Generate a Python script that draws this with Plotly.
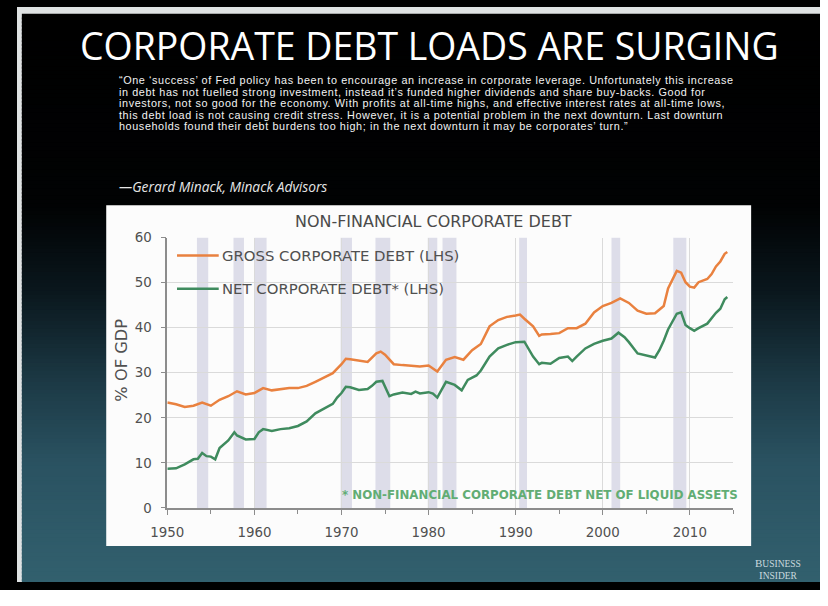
import plotly.graph_objects as go

# Figure sized so the whole page, including the browser's default body margin,
# fits the 828 x 606 window without scrollbars.
W, H = 820, 590
# layout positions below are in slide pixels of an 828 x 606 slide
SLIDE_W, SLIDE_H = 828, 606
FS = 0.985  # font scale from slide pixels to figure pixels

# ---- data -----------------------------------------------------------------
gross_years = [1950, 1951, 1952, 1953, 1954, 1955, 1956, 1957, 1958, 1959,
               1960, 1961, 1962, 1963, 1964, 1965, 1966, 1967, 1968, 1969,
               1970, 1970.5, 1971, 1972, 1973, 1974, 1974.5, 1975, 1976, 1977,
               1978, 1979, 1980, 1981, 1982, 1983, 1984, 1985, 1986, 1987,
               1988, 1989, 1990, 1990.5, 1991, 1992, 1992.7, 1993, 1994, 1995,
               1996, 1997, 1998, 1999, 2000, 2001, 2002, 2003, 2004, 2005,
               2006, 2007, 2007.5, 2008, 2008.5, 2009, 2009.5, 2010, 2010.5, 2011,
               2012, 2012.5, 2013, 2013.5, 2014, 2014.3]
gross_debt = [23.4, 23.0, 22.4, 22.7, 23.4, 22.7, 24.0, 24.8, 25.9, 25.2,
              25.5, 26.6, 26.1, 26.3, 26.6, 26.6, 27.1, 28.0, 28.9, 29.9,
              31.9, 33.1, 33.0, 32.7, 32.4, 34.3, 34.7, 34.0, 31.9, 31.7,
              31.5, 31.4, 31.6, 30.3, 32.9, 33.5, 32.9, 35.0, 36.4, 40.3,
              41.7, 42.4, 42.7, 42.9, 42.0, 40.3, 38.2, 38.5, 38.6, 38.8,
              39.9, 39.9, 40.9, 43.4, 44.8, 45.5, 46.5, 45.5, 43.8, 43.1,
              43.2, 44.8, 48.7, 50.8, 52.6, 52.2, 50.1, 49.1, 48.9, 50.1,
              50.8, 51.9, 53.6, 54.7, 56.4, 56.8]

net_years = [1950, 1951, 1952, 1953, 1953.5, 1954, 1954.5, 1955, 1955.5, 1956,
             1957, 1957.7, 1958, 1959, 1960, 1960.5, 1961, 1962, 1963, 1964,
             1965, 1966, 1967, 1968, 1969, 1969.5, 1970, 1970.5, 1971, 1972,
             1973, 1973.5, 1974, 1974.7, 1975, 1975.5, 1976, 1977, 1978, 1978.5,
             1979, 1980, 1980.5, 1981, 1982, 1983, 1983.8, 1984.5, 1985.5, 1986,
             1987, 1988, 1989, 1990, 1991, 1991.5, 1992, 1992.7, 1993, 1994,
             1994.5, 1995, 1996, 1996.5, 1997, 1998, 1999, 2000, 2001, 2001.8,
             2002.5, 2003, 2004, 2005, 2006, 2006.5, 2007, 2007.5, 2008, 2008.5,
             2009, 2009.5, 2010, 2010.5, 2011, 2012, 2013, 2013.5, 2014, 2014.3]
net_debt = [8.7, 8.8, 9.7, 10.8, 10.9, 12.2, 11.5, 11.4, 10.8, 13.3,
            15.0, 16.8, 16.1, 15.2, 15.3, 16.8, 17.5, 17.1, 17.5, 17.7,
            18.2, 19.2, 21.0, 22.0, 23.1, 24.5, 25.5, 26.9, 26.8, 26.2,
            26.4, 27.1, 28.0, 28.2, 26.9, 24.8, 25.2, 25.6, 25.3, 25.8,
            25.4, 25.7, 25.4, 24.5, 28.0, 27.3, 26.1, 28.4, 29.4, 30.5,
            33.6, 35.4, 36.2, 36.8, 36.9, 35.4, 33.6, 31.9, 32.2, 32.0,
            32.6, 33.3, 33.6, 32.6, 33.6, 35.4, 36.4, 37.1, 37.6, 38.9,
            37.9, 36.8, 34.3, 33.9, 33.4, 35.0, 37.1, 39.6, 41.3, 43.1,
            43.4, 40.6, 39.9, 39.3, 39.9, 40.9, 43.3, 44.2, 46.3, 46.8]

# recession periods (shaded)
recession_start = [1953.4, 1957.6, 1960.0, 1969.9, 1973.9, 1979.9, 1981.6, 1990.4, 2001.0, 2008.1]
recession_end = [1954.7, 1958.8, 1961.4, 1971.2, 1975.6, 1981.0, 1983.2, 1991.3, 2002.0, 2009.6]

series_names = ["GROSS CORPORATE DEBT (LHS)", "NET CORPORATE DEBT* (LHS)"]
series_colors = ["#e9813f", "#3f8b5e"]

headline = "CORPORATE DEBT LOADS ARE SURGING"
quote_lines = [
    "\u201cOne \u2018success\u2019 of Fed policy has been to encourage an increase in corporate leverage. Unfortunately this increase",
    "in debt has not fuelled strong investment, instead it\u2019s funded higher dividends and share buy-backs. Good for",
    "investors, not so good for the economy. With profits at all-time highs, and effective interest rates at all-time lows,",
    "this debt load is not causing credit stress. However, it is a potential problem in the next downturn. Last downturn",
    "households found their debt burdens too high; in the next downturn it may be corporates\u2019 turn.\u201d",
]
attribution = "\u2014Gerard Minack, Minack Advisors"
chart_title = "NON-FINANCIAL CORPORATE DEBT"
y_title = "% OF GDP"
footnote = "* NON-FINANCIAL CORPORATE DEBT NET OF LIQUID ASSETS"
logo_words = ["BUSINESS", "INSIDER"]


# ---- helpers ----------------------------------------------------------------
def px(x):
    return x / SLIDE_W


def py(y):
    return 1 - y / SLIDE_H


def fs(size):
    return round(size * FS, 2)


def hex_to_rgb(h):
    h = h.lstrip("#")
    return tuple(int(h[i:i + 2], 16) for i in (0, 2, 4))


def blend(stops, y):
    for (y0, c0), (y1, c1) in zip(stops, stops[1:]):
        if y0 <= y <= y1:
            t = (y - y0) / (y1 - y0) if y1 > y0 else 0
            a, b = hex_to_rgb(c0), hex_to_rgb(c1)
            return "rgb(%d,%d,%d)" % tuple(round(a[i] + (b[i] - a[i]) * t) for i in range(3))
    return stops[-1][1]


def small_caps(word):
    return "<span style='font-size:11px'>%s</span>%s" % (word[0], word[1:])


TEXT_GREY = "#505050"

shapes = []

# light slide border along the top and left edges
shapes.append(dict(type="rect", xref="paper", yref="paper", layer="below",
                   x0=0, x1=1, y0=0, y1=1, fillcolor="#dfe2e3", line=dict(width=0)))

# slide background: dark top fading into slate teal (overlapping bands, no seams)
bg_stops = [(0, "#000000"), (210, "#010203"), (300, "#0a171d"), (400, "#1d3b47"),
            (480, "#2a5261"), (606, "#32606e")]
step = 4
for y in range(7, SLIDE_H, step):
    shapes.append(dict(type="rect", xref="paper", yref="paper", layer="below",
                       x0=px(5), x1=1, y0=max(py(y + step + 2), 0), y1=py(y),
                       fillcolor=blend(bg_stops, y + step / 2), line=dict(width=0)))

# white chart panel
shapes.append(dict(type="rect", xref="paper", yref="paper", layer="below",
                   x0=px(92), x1=px(757), y0=py(568), y1=py(209),
                   fillcolor="#fcfcfc", line=dict(width=0)))

# recession bands
for s, e in zip(recession_start, recession_end):
    shapes.append(dict(type="rect", xref="x", yref="y", layer="below",
                       x0=s, x1=e, y0=0, y1=60,
                       fillcolor="#dddde9", line=dict(width=0)))

# legend keys
for i, c in enumerate(series_colors):
    yk = 262 + 35 * i
    shapes.append(dict(type="line", xref="paper", yref="paper",
                       x0=px(165), x1=px(208), y0=py(yk), y1=py(yk),
                       line=dict(color=c, width=2.5)))

fig = go.Figure()
fig.add_trace(go.Scatter(x=gross_years, y=gross_debt, mode="lines", name=series_names[0],
                         line=dict(color=series_colors[0], width=2.5)))
fig.add_trace(go.Scatter(x=net_years, y=net_debt, mode="lines", name=series_names[1],
                         line=dict(color=series_colors[1], width=2.5)))

annotations = [
    dict(text=headline, x=px(425), y=py(41), xref="paper", yref="paper",
         showarrow=False, xanchor="center", yanchor="middle",
         font=dict(family="Open Sans", size=fs(38), color="#ffffff")),
    dict(text="<i>" + attribution + "</i>", x=px(103), y=py(189), xref="paper", yref="paper",
         showarrow=False, xanchor="left", yanchor="middle",
         font=dict(family="Open Sans", size=fs(14), color="#e6e6e6")),
    dict(text=chart_title, x=px(429), y=py(226), xref="paper", yref="paper",
         showarrow=False, xanchor="center", yanchor="middle",
         font=dict(family="DejaVu Sans", size=fs(16.2), color="#4a4a4a")),
    dict(text=y_title, x=px(108), y=py(372), xref="paper", yref="paper",
         showarrow=False, xanchor="center", yanchor="middle", textangle=-90,
         font=dict(family="DejaVu Sans", size=fs(16.5), color=TEXT_GREY)),
    dict(text="<b>" + footnote + "</b>", x=px(746), y=py(514), xref="paper", yref="paper",
         showarrow=False, xanchor="right", yanchor="middle",
         font=dict(family="DejaVu Sans", size=fs(12), color="#62ad74")),
    # two-line masthead in one text block
    dict(text="<br>".join(small_caps(w) for w in logo_words), x=px(785), y=py(592),
         xref="paper", yref="paper", showarrow=False, xanchor="center", yanchor="middle",
         align="center",
         font=dict(family="Liberation Serif", size=9.5, color="#c9d9df")),
]
for i, name in enumerate(series_names):
    annotations.append(dict(text=name, x=px(209), y=py(262 + 35 * i), xref="paper", yref="paper",
                            showarrow=False, xanchor="left", yanchor="middle",
                            font=dict(family="DejaVu Sans", size=fs(15.1), color=TEXT_GREY)))
for i, line in enumerate(quote_lines):
    annotations.append(dict(text="<span style='letter-spacing:0.6px'>" + line + "</span>",
                            x=px(103), y=py(77 + 12.2 * i), xref="paper", yref="paper",
                            showarrow=False, xanchor="left", yanchor="middle",
                            font=dict(family="Liberation Sans", size=fs(11), color="#f2f2f2")))

axis_common = dict(
    showline=True, linecolor="#8c8c8c", linewidth=1.5,
    ticks="outside", tickcolor="#8c8c8c", ticklen=5, tickwidth=1.2,
    gridcolor="#dadada", gridwidth=1, zeroline=False,
    tickfont=dict(family="DejaVu Sans", size=fs(13.6), color=TEXT_GREY),
    ticklabelstandoff=6,
)

fig.update_layout(
    width=W, height=H,
    margin=dict(l=0, r=0, t=0, b=0),
    paper_bgcolor="#000000",
    plot_bgcolor="rgba(0,0,0,0)",
    shapes=shapes,
    annotations=annotations,
    showlegend=False,
    xaxis=dict(domain=[px(155), px(738.7)], range=[1950, 2015],
               tick0=1950, dtick=10,
               minor=dict(dtick=5, tick0=1950, ticks="outside", ticklen=4,
                          tickcolor="#8c8c8c", showgrid=False),
               **axis_common),
    yaxis=dict(domain=[py(528), py(243)], range=[0, 60], dtick=10,
               **axis_common),
)

fig.write_html("out.html")
